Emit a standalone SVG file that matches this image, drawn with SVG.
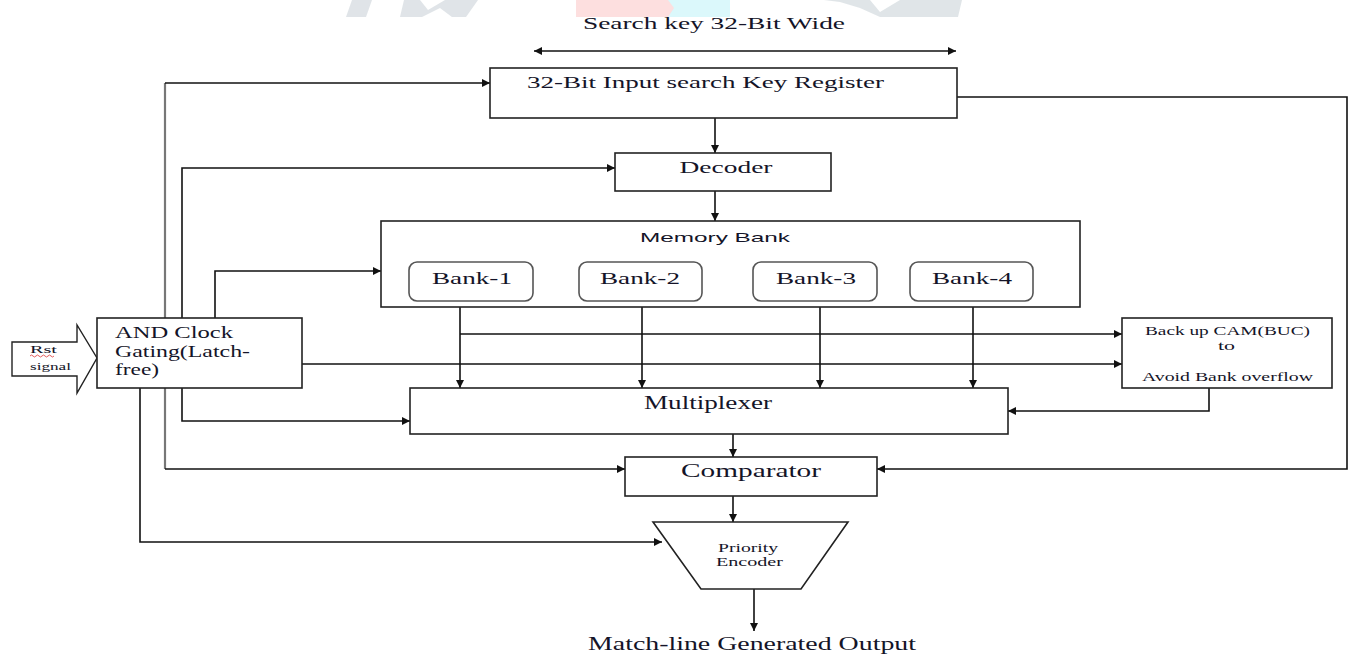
<svg xmlns="http://www.w3.org/2000/svg" width="1350" height="655" viewBox="0 0 1350 655">
<style>
.box{fill:#fff;stroke:#222;stroke-width:1.6}
.bank{fill:#fff;stroke:#555;stroke-width:1.6}
.ln{fill:none;stroke:#111;stroke-width:1.6}
.gl{fill:none;stroke:#777;stroke-width:2.2}
.t{font-family:"Liberation Serif","Times New Roman",serif;fill:#141428}
.s{font-family:"Liberation Sans",Arial,sans-serif;fill:#141428}
</style>
<defs>
<marker id="ah" viewBox="0 0 10 10" refX="10" refY="5" markerWidth="10" markerHeight="8" markerUnits="userSpaceOnUse" orient="auto-start-reverse">
<path d="M0,0 L10,5 L0,10 z" fill="#111"/>
</marker>
</defs>
<rect width="1350" height="655" fill="#fff"/>
<g id="watermark" opacity="0.9">
<path d="M346,17 L352,0 L372,0 L366,17 z" fill="#dde2e6"/>
<path d="M400,17 L404,0 L420,0 L428,10 L445,0 L478,0 L466,17 L452,17 L440,8 L422,17 z" fill="#dde2e6"/>
<rect x="576" y="0" width="98" height="17" fill="#fddcdc"/>
<path d="M668,0 L730,0 L730,17 L668,17 L674,8 z" fill="#d8f8fb"/>
<path d="M824,0 L870,0 L880,12 L900,0 L962,0 L958,17 L900,17 L880,17 L860,8 L840,2 z" fill="#dde2e6"/>
</g>
<g id="connectors">
<line class="ln" x1="534" y1="51" x2="956" y2="51" marker-start="url(#ah)" marker-end="url(#ah)"/>
<polyline class="gl" points="165,388 165,83"/>
<polyline class="ln" points="165,83 490,83" marker-end="url(#ah)"/>
<polyline class="gl" points="165,388 165,469"/>
<polyline class="ln" points="165,469 625,469" marker-end="url(#ah)"/>
<polyline class="ln" points="957,97 1347,97 1347,469 877,469" marker-end="url(#ah)"/>
<line class="ln" x1="715" y1="118" x2="715" y2="153" marker-end="url(#ah)"/>
<polyline class="ln" points="182,318 182,168 615,168" marker-end="url(#ah)"/>
<line class="ln" x1="715" y1="191" x2="715" y2="221" marker-end="url(#ah)"/>
<polyline class="ln" points="215,318 215,271 381,271" marker-end="url(#ah)"/>
<line class="ln" x1="460" y1="301" x2="460" y2="388" marker-end="url(#ah)"/>
<line class="ln" x1="642" y1="301" x2="642" y2="388" marker-end="url(#ah)"/>
<line class="ln" x1="820" y1="301" x2="820" y2="388" marker-end="url(#ah)"/>
<line class="ln" x1="973" y1="301" x2="973" y2="388" marker-end="url(#ah)"/>
<line class="ln" x1="460" y1="334" x2="1122" y2="334" marker-end="url(#ah)"/>
<line class="ln" x1="302" y1="364" x2="1122" y2="364" marker-end="url(#ah)"/>
<polyline class="ln" points="1209,388 1209,411 1008,411" marker-end="url(#ah)"/>
<polyline class="ln" points="182,388 182,421 410,421" marker-end="url(#ah)"/>
<line class="ln" x1="733" y1="434" x2="733" y2="457" marker-end="url(#ah)"/>
<line class="ln" x1="733" y1="496" x2="733" y2="522" marker-end="url(#ah)"/>
<polyline class="ln" points="140,388 140,542 662,542" marker-end="url(#ah)"/>
<line class="ln" x1="754" y1="589" x2="754" y2="631" marker-end="url(#ah)"/>
</g>
<g id="search-key-label">
<text class="t" x="714" y="29" font-size="16" text-anchor="middle" textLength="262" lengthAdjust="spacingAndGlyphs">Search key 32-Bit Wide</text>
</g>
<g id="register">
<rect class="box" x="490" y="68" width="467" height="50"/>
<text class="t" x="527" y="88" font-size="17" textLength="357" lengthAdjust="spacingAndGlyphs">32-Bit Input search Key Register</text>
</g>
<g id="decoder">
<rect class="box" x="615" y="153" width="216" height="38"/>
<text class="t" x="726" y="173" font-size="17.5" text-anchor="middle" textLength="93" lengthAdjust="spacingAndGlyphs">Decoder</text>
</g>
<g id="memory-bank">
<rect class="box" x="381" y="221" width="699" height="86"/>
<text class="s" x="715" y="242" font-size="13" text-anchor="middle" textLength="150" lengthAdjust="spacingAndGlyphs">Memory Bank</text>
</g>
<g id="bank-1">
<rect class="bank" x="409" y="262" width="124" height="39" rx="8"/>
<text class="t" x="472" y="284" font-size="17.5" text-anchor="middle" textLength="80" lengthAdjust="spacingAndGlyphs">Bank-1</text>
</g>
<g id="bank-2">
<rect class="bank" x="579" y="262" width="123" height="39" rx="8"/>
<text class="t" x="640" y="284" font-size="17.5" text-anchor="middle" textLength="80" lengthAdjust="spacingAndGlyphs">Bank-2</text>
</g>
<g id="bank-3">
<rect class="bank" x="753" y="262" width="124" height="39" rx="8"/>
<text class="t" x="816" y="284" font-size="17.5" text-anchor="middle" textLength="80" lengthAdjust="spacingAndGlyphs">Bank-3</text>
</g>
<g id="bank-4">
<rect class="bank" x="910" y="262" width="123" height="39" rx="8"/>
<text class="t" x="972" y="284" font-size="17.5" text-anchor="middle" textLength="80" lengthAdjust="spacingAndGlyphs">Bank-4</text>
</g>
<g id="rst-signal">
<path d="M12,342 L77,342 L77,325 L97,358 L77,393 L77,376 L12,376 z" fill="#fff" stroke="#222" stroke-width="1.4"/>
<text class="t" x="30" y="353" font-size="10" textLength="27" lengthAdjust="spacingAndGlyphs">Rst</text>
<path d="M30,356 q1.5,-2 3,0 t3,0 t3,0 t3,0 t3,0 t3,0 t3,0 t3,0" fill="none" stroke="#d33" stroke-width="0.8"/>
<text class="t" x="30" y="370" font-size="10" textLength="41" lengthAdjust="spacingAndGlyphs">signal</text>
</g>
<g id="and-clock-gating">
<rect class="box" x="97" y="318" width="205" height="70"/>
<text class="t" x="115" y="338" font-size="17" textLength="118" lengthAdjust="spacingAndGlyphs">AND Clock</text>
<text class="t" x="115" y="357" font-size="17" textLength="135" lengthAdjust="spacingAndGlyphs">Gating(Latch-</text>
<text class="t" x="115" y="375" font-size="17" textLength="44" lengthAdjust="spacingAndGlyphs">free)</text>
</g>
<g id="backup-cam">
<rect class="box" x="1122" y="318" width="210" height="70"/>
<text class="t" x="1145" y="335" font-size="12.5" textLength="165" lengthAdjust="spacingAndGlyphs">Back up CAM(BUC)</text>
<text class="t" x="1218" y="350" font-size="12.5" textLength="17" lengthAdjust="spacingAndGlyphs">to</text>
<text class="t" x="1142" y="381" font-size="12.5" textLength="171" lengthAdjust="spacingAndGlyphs">Avoid Bank overflow</text>
</g>
<g id="multiplexer">
<rect class="box" x="410" y="388" width="598" height="46"/>
<text class="t" x="644" y="409" font-size="18" textLength="128" lengthAdjust="spacingAndGlyphs">Multiplexer</text>
</g>
<g id="comparator">
<rect class="box" x="625" y="457" width="252" height="39"/>
<text class="t" x="681" y="477" font-size="19" textLength="140" lengthAdjust="spacingAndGlyphs">Comparator</text>
</g>
<g id="priority-encoder">
<polygon class="box" points="653,522 848,522 801,589 701,589"/>
<text class="t" x="718" y="552" font-size="13" textLength="60" lengthAdjust="spacingAndGlyphs">Priority</text>
<text class="t" x="716" y="566" font-size="13" textLength="67" lengthAdjust="spacingAndGlyphs">Encoder</text>
</g>
<g id="output-label">
<text class="t" x="752" y="650" font-size="18" text-anchor="middle" textLength="328" lengthAdjust="spacingAndGlyphs">Match-line Generated Output</text>
</g>
</svg>
